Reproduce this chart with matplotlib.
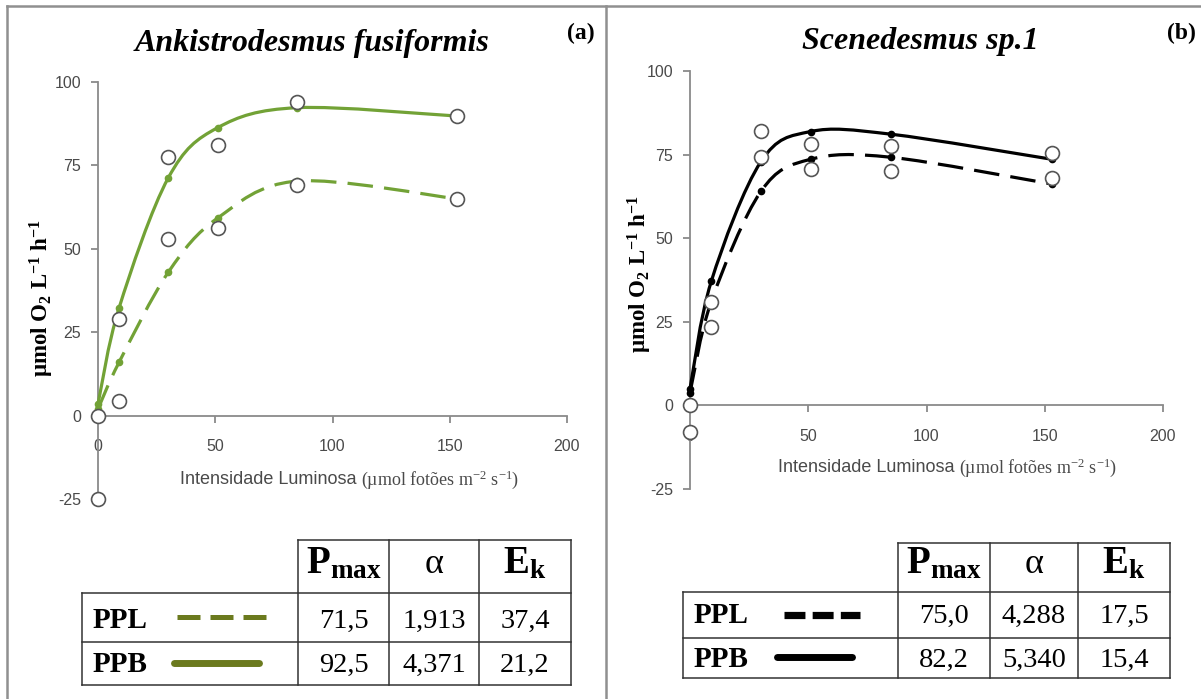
import numpy as np
import matplotlib
matplotlib.use("Agg")
import matplotlib.pyplot as plt
from matplotlib.path import Path
from matplotlib.patches import PathPatch
from matplotlib.lines import Line2D
from matplotlib.transforms import Affine2D

plt.rcParams["mathtext.default"] = "regular"
plt.rcParams["axes.unicode_minus"] = False

# ---- data -------------------------------------------------------------
light = [0, 9, 30, 51, 85, 153]

# Ankistrodesmus fusiformis
ank_ppb_obs = [0, 29, 77.5, 81, 94, 89.7]
ank_ppl_obs = [-25, 4.5, 53, 56.2, 69, 65]
ank_ppb_fit = [3.5, 32.3, 71.3, 86.3, 92.3, 89.8]
ank_ppl_fit = [2, 16, 43, 59.2, 70.3, 65]

# Scenedesmus sp.1
sce_ppb_obs = [0, 31, 82, 78.2, 77.7, 75.6]
sce_ppl_obs = [-8, 23.5, 74.4, 70.6, 70, 68]
sce_ppb_fit = [5, 37.1, 72.9, 81.9, 81.1, 73.6]
sce_ppl_fit = [3.8, 31.1, 64, 73.6, 74.2, 66.2]

row_labels = ["PPL", "PPB"]
ank_pmax = [71.5, 92.5]
ank_alpha = [1.913, 4.371]
ank_ek = [37.4, 21.2]
sce_pmax = [75.0, 82.2]
sce_alpha = [4.288, 5.340]
sce_ek = [17.5, 15.4]

x_ticks = [0, 50, 100, 150, 200]
y_ticks = [-25, 0, 25, 50, 75, 100]

# ---- style ------------------------------------------------------------
W, H = 1201, 699
GREEN = "#72a236"
OLIVE = "#6b7a1e"
AXIS_GRAY = "#8a8a8a"
TICK_TXT = "#4a4a4a"
CIRCLE_EDGE = "#555555"
SERIF = "Liberation Serif"
SANS = "Liberation Sans"

fig = plt.figure(figsize=(W / 100, H / 100), dpi=100)
fig.patch.set_facecolor("white")
px = Affine2D().scale(1 / W, -1 / H).translate(0, 1) + fig.transFigure


def smooth_path(x, y):
    """Smoothed (Catmull-Rom style) Bezier path through the points."""
    pts = np.column_stack([x, y]).astype(float)
    n = len(pts)
    verts = [pts[0]]
    codes = [Path.MOVETO]
    for i in range(n - 1):
        p0 = pts[max(i - 1, 0)]
        p1 = pts[i]
        p2 = pts[i + 1]
        p3 = pts[min(i + 2, n - 1)]
        verts += [p1 + (p2 - p0) / 6, p2 - (p3 - p1) / 6, p2]
        codes += [Path.CURVE4] * 3
    return Path(verts, codes)


def setup_axes(ax):
    ax.set_xlim(0, 200)
    ax.set_ylim(-25, 100)
    ax.patch.set_alpha(0)
    for s in ["top", "right"]:
        ax.spines[s].set_visible(False)
    ax.spines["bottom"].set_position(("data", 0))
    for s in ["left", "bottom"]:
        ax.spines[s].set_color(AXIS_GRAY)
        ax.spines[s].set_linewidth(1.3)
    ax.set_xticks(x_ticks)
    ax.set_yticks(y_ticks)
    ax.tick_params(axis="both", direction="out", length=5, width=1.3,
                   color=AXIS_GRAY, labelcolor=TICK_TXT, labelsize=11.5)
    ax.tick_params(axis="x", pad=12)
    ax.tick_params(axis="y", pad=7)
    for lab in ax.get_xticklabels() + ax.get_yticklabels():
        lab.set_fontfamily(SANS)


def draw_series(ax, fit_ppb, fit_ppl, obs_ppb, obs_ppl, color):
    ax.add_patch(PathPatch(smooth_path(light, fit_ppb), fill=False,
                           edgecolor=color, lw=2.3, zorder=3, clip_on=False))
    ax.add_patch(PathPatch(smooth_path(light, fit_ppl), fill=False,
                           edgecolor=color, lw=2.3, ls=(0, (8, 3.5)),
                           zorder=3, clip_on=False))
    for fit in (fit_ppb, fit_ppl):
        ax.plot(light, fit, "o", ms=4.5, color=color, zorder=4, clip_on=False)
    for obs in (obs_ppb, obs_ppl):
        ax.plot(light, obs, "o", ms=10, mfc="white", mec=CIRCLE_EDGE,
                mew=1.2, zorder=5, clip_on=False)


def axis_labels(xl, yl_x, yl_y):
    fig.text(xl[0], xl[2], "Intensidade Luminosa", transform=px,
             family=SANS, size=13, color=TICK_TXT, ha="right", va="center")
    fig.text(xl[1], xl[2], "(µmol fotões m$^{-2}$ s$^{-1}$)", transform=px,
             family=SERIF, size=13, color=TICK_TXT, ha="left", va="center")
    fig.text(yl_x, yl_y, "µmol O$_2$ L$^{-1}$ h$^{-1}$", transform=px,
             family=SERIF, weight="bold", size=16.5, rotation=90,
             ha="center", va="center")


def fmt(v, nd):
    return f"{v:.{nd}f}".replace(".", ",")


def draw_table(cols, rows, left, base_hdr, base_rows, label_x, legend,
               pmax, alpha, ek, legend_color):
    lc = "#333333"
    lw = 1.1
    # header cells
    fig.add_artist(Line2D([cols[0], cols[-1]], [rows[0], rows[0]],
                          transform=px, color=lc, lw=lw))
    for yy in rows[1:]:
        fig.add_artist(Line2D([left, cols[-1]], [yy, yy], transform=px,
                              color=lc, lw=lw))
    for xx in cols:
        fig.add_artist(Line2D([xx, xx], [rows[0], rows[-1]], transform=px,
                              color=lc, lw=lw))
    fig.add_artist(Line2D([left, left], [rows[1], rows[-1]], transform=px,
                          color=lc, lw=lw))
    centers = [(cols[i] + cols[i + 1]) / 2 for i in range(3)]
    hdr = ["P$_{max}$", "α", "E$_k$"]
    hsize = [28, 26, 28]
    hweight = ["bold", "normal", "bold"]
    for c, t, s, w in zip(centers, hdr, hsize, hweight):
        fig.text(c, base_hdr, t, transform=px, family=SERIF, weight=w,
                 size=s, ha="center", va="baseline")
    for i, lab in enumerate(row_labels):
        b = base_rows[i]
        fig.text(label_x, b, lab, transform=px, family=SERIF, weight="bold",
                 size=21, ha="left", va="baseline")
        vals = [fmt(pmax[i], 1), fmt(alpha[i], 3), fmt(ek[i], 1)]
        for c, v in zip(centers, vals):
            fig.text(c, b, v, transform=px, family=SERIF, size=20.5,
                     ha="center", va="baseline")
    # line samples
    (dx0, dx1, dy, dash), (sx0, sx1, sy) = legend
    fig.add_artist(Line2D([dx0, dx1], [dy, dy], transform=px,
                          color=legend_color, lw=dash[2],
                          ls=(0, (dash[0], dash[1])),
                          solid_capstyle="butt", dash_capstyle="butt"))
    fig.add_artist(Line2D([sx0, sx1], [sy, sy], transform=px,
                          color=legend_color, lw=5, solid_capstyle="round"))


# ---- panel (a) --------------------------------------------------------
ax_a = fig.add_axes([98 / W, 1 - 499 / H, 469 / W, 417 / H])
setup_axes(ax_a)
draw_series(ax_a, ank_ppb_fit, ank_ppl_fit, ank_ppb_obs, ank_ppl_obs, GREEN)
fig.text(312, 43, "Ankistrodesmus fusiformis", transform=px, family=SERIF,
         style="italic", weight="bold", size=23, ha="center", va="center")
fig.text(581, 33, "(a)", transform=px, family=SERIF, weight="bold", size=17,
         ha="center", va="center")
axis_labels((356, 361, 480), 42, 298)
draw_table([298, 389, 479, 571], [540, 593, 642, 685], 82, 573, [628, 672],
           93, ((177, 267, 617, (4.6, 2.0, 3.6)), (174, 259, 663)),
           ank_pmax, ank_alpha, ank_ek, OLIVE)

# ---- panel (b) --------------------------------------------------------
ax_b = fig.add_axes([690 / W, 1 - 489 / H, 473 / W, 418 / H])
setup_axes(ax_b)
draw_series(ax_b, sce_ppb_fit, sce_ppl_fit, sce_ppb_obs, sce_ppl_obs, "black")
fig.text(920, 42, "Scenedesmus sp.1", transform=px, family=SERIF,
         style="italic", weight="bold", size=23, ha="center", va="center")
fig.text(1181, 33, "(b)", transform=px, family=SERIF, weight="bold", size=17,
         ha="center", va="center")
axis_labels((954, 959, 468), 640, 274)
draw_table([898, 990, 1078, 1170], [543, 592, 638, 678], 683, 573, [623, 667],
           694, ((784, 860, 615, (2.9, 1.0, 5.2)), (777, 852, 657)),
           sce_pmax, sce_alpha, sce_ek, "black")

# ---- panel frames -----------------------------------------------------
frame = dict(transform=px, color="#909090", lw=1.8)
fig.add_artist(Line2D([7, 1201], [6, 6], **frame))
fig.add_artist(Line2D([7, 7], [6, 699], **frame))
fig.add_artist(Line2D([606, 606], [6, 699], **frame))

fig.savefig("out.png", dpi=100, facecolor="white")
